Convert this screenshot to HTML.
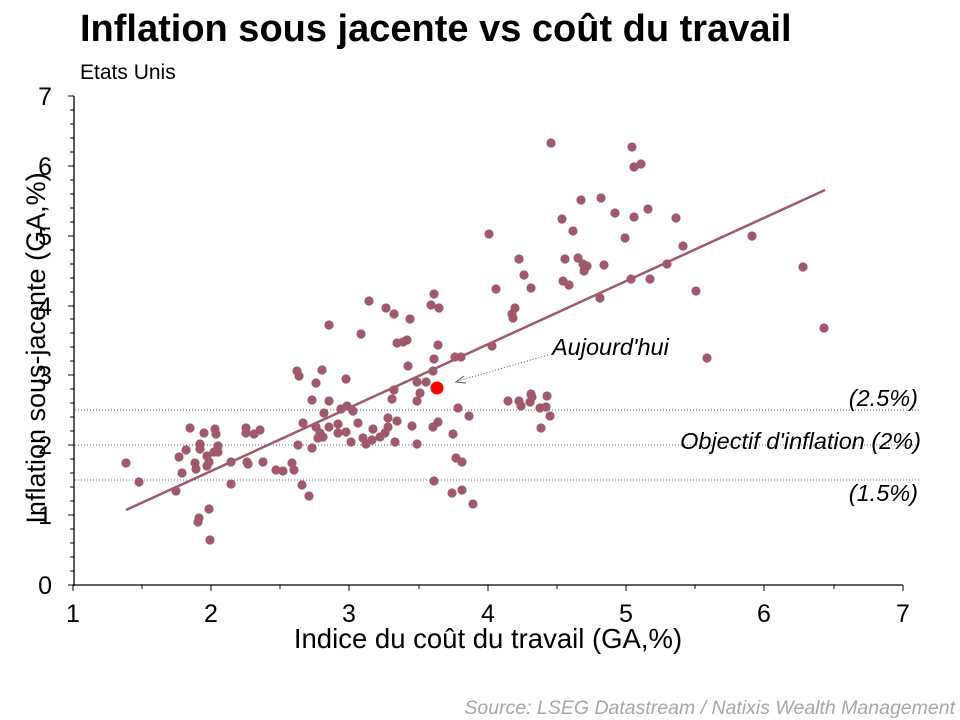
<!DOCTYPE html>
<html><head><meta charset="utf-8"><style>
body{margin:0;background:#fff;}
svg{display:block;font-family:"Liberation Sans",Arial,sans-serif;}
</style></head><body>
<svg width="960" height="720" viewBox="0 0 960 720" xmlns="http://www.w3.org/2000/svg">
<text x="80" y="41" font-size="38" font-weight="bold" fill="#000">Inflation sous jacente vs coût du travail</text>
<text x="80" y="79" font-size="21" fill="#000">Etats Unis</text>
<g stroke="#666" stroke-width="1" stroke-dasharray="1,2">
<line x1="75" y1="410" x2="920" y2="410"/>
<line x1="75" y1="445" x2="920" y2="445"/>
<line x1="75" y1="480" x2="920" y2="480"/>
</g>
<g stroke="#000" stroke-width="1.3">
<line x1="74" y1="96" x2="74" y2="586"/>
<line x1="73" y1="585" x2="903" y2="585"/>
</g>
<g stroke="#000" stroke-width="1">
<line x1="68" y1="585" x2="74" y2="585"/><line x1="70" y1="571" x2="74" y2="571"/><line x1="70" y1="557" x2="74" y2="557"/><line x1="70" y1="543" x2="74" y2="543"/><line x1="70" y1="529" x2="74" y2="529"/>
<line x1="68" y1="515" x2="74" y2="515"/><line x1="70" y1="501" x2="74" y2="501"/><line x1="70" y1="487" x2="74" y2="487"/><line x1="70" y1="473" x2="74" y2="473"/><line x1="70" y1="459" x2="74" y2="459"/>
<line x1="68" y1="445" x2="74" y2="445"/><line x1="70" y1="431" x2="74" y2="431"/><line x1="70" y1="417" x2="74" y2="417"/><line x1="70" y1="403" x2="74" y2="403"/><line x1="70" y1="389" x2="74" y2="389"/>
<line x1="68" y1="375" x2="74" y2="375"/><line x1="70" y1="361" x2="74" y2="361"/><line x1="70" y1="347" x2="74" y2="347"/><line x1="70" y1="333" x2="74" y2="333"/><line x1="70" y1="319" x2="74" y2="319"/>
<line x1="68" y1="306" x2="74" y2="306"/><line x1="70" y1="292" x2="74" y2="292"/><line x1="70" y1="278" x2="74" y2="278"/><line x1="70" y1="264" x2="74" y2="264"/><line x1="70" y1="250" x2="74" y2="250"/>
<line x1="68" y1="236" x2="74" y2="236"/><line x1="70" y1="222" x2="74" y2="222"/><line x1="70" y1="208" x2="74" y2="208"/><line x1="70" y1="194" x2="74" y2="194"/><line x1="70" y1="180" x2="74" y2="180"/>
<line x1="68" y1="166" x2="74" y2="166"/><line x1="70" y1="152" x2="74" y2="152"/><line x1="70" y1="138" x2="74" y2="138"/><line x1="70" y1="124" x2="74" y2="124"/><line x1="70" y1="110" x2="74" y2="110"/>
<line x1="68" y1="96" x2="74" y2="96"/>
<line x1="73" y1="585" x2="73" y2="591"/><line x1="142" y1="585" x2="142" y2="589"/><line x1="211" y1="585" x2="211" y2="591"/><line x1="280" y1="585" x2="280" y2="589"/><line x1="349" y1="585" x2="349" y2="591"/><line x1="419" y1="585" x2="419" y2="589"/><line x1="488" y1="585" x2="488" y2="591"/><line x1="557" y1="585" x2="557" y2="589"/><line x1="626" y1="585" x2="626" y2="591"/><line x1="695" y1="585" x2="695" y2="589"/><line x1="764" y1="585" x2="764" y2="591"/><line x1="834" y1="585" x2="834" y2="589"/><line x1="903" y1="585" x2="903" y2="591"/>
</g>
<g font-size="25" fill="#000" text-anchor="end">
<text x="52" y="594">0</text><text x="52" y="524">1</text><text x="52" y="454">2</text><text x="52" y="384">3</text><text x="52" y="315">4</text><text x="52" y="245">5</text><text x="52" y="175">6</text><text x="52" y="105">7</text>
</g>
<g font-size="25" fill="#000" text-anchor="middle">
<text x="73" y="622">1</text><text x="211" y="622">2</text><text x="349" y="622">3</text><text x="488" y="622">4</text><text x="626" y="622">5</text><text x="764" y="622">6</text><text x="903" y="622">7</text>
</g>
<text x="488" y="648" font-size="27.5" text-anchor="middle">Indice du coût du travail (GA,%)</text>
<text transform="translate(45,348) rotate(-90)" font-size="27" text-anchor="middle">Inflation sous-jacente (GA,%)</text>
<line x1="126" y1="510" x2="825" y2="190" stroke="#a0596b" stroke-width="2.5"/>
<g fill="#a0596b">
<circle cx="126" cy="463" r="4.6"/><circle cx="139" cy="482" r="4.6"/><circle cx="176" cy="491" r="4.6"/><circle cx="179" cy="457" r="4.6"/><circle cx="182" cy="473" r="4.6"/><circle cx="186" cy="450" r="4.6"/><circle cx="190" cy="428" r="4.6"/><circle cx="195" cy="463" r="4.6"/><circle cx="196" cy="469" r="4.6"/><circle cx="200" cy="444" r="4.6"/><circle cx="200" cy="449" r="4.6"/><circle cx="198" cy="522" r="4.6"/><circle cx="199" cy="518" r="4.6"/><circle cx="209" cy="509" r="4.6"/><circle cx="210" cy="540" r="4.6"/><circle cx="204" cy="433" r="4.6"/><circle cx="207" cy="456" r="4.6"/><circle cx="209" cy="462" r="4.6"/><circle cx="207" cy="466" r="4.6"/><circle cx="215" cy="429" r="4.6"/><circle cx="216" cy="434" r="4.6"/><circle cx="218" cy="446" r="4.6"/><circle cx="218" cy="452" r="4.6"/><circle cx="214" cy="452" r="4.6"/><circle cx="231" cy="462" r="4.6"/><circle cx="231" cy="484" r="4.6"/><circle cx="246" cy="428" r="4.6"/><circle cx="246" cy="433" r="4.6"/><circle cx="247" cy="462" r="4.6"/><circle cx="248" cy="464" r="4.6"/><circle cx="254" cy="434" r="4.6"/><circle cx="260" cy="430" r="4.6"/><circle cx="263" cy="462" r="4.6"/><circle cx="276" cy="470" r="4.6"/><circle cx="283" cy="471" r="4.6"/><circle cx="292" cy="463" r="4.6"/><circle cx="294" cy="470" r="4.6"/><circle cx="302" cy="485" r="4.6"/><circle cx="309" cy="496" r="4.6"/><circle cx="297" cy="371" r="4.6"/><circle cx="299" cy="376" r="4.6"/><circle cx="316" cy="383" r="4.6"/><circle cx="322" cy="370" r="4.6"/><circle cx="329" cy="325" r="4.6"/><circle cx="312" cy="400" r="4.6"/><circle cx="329" cy="401" r="4.6"/><circle cx="303" cy="423" r="4.6"/><circle cx="324" cy="413" r="4.6"/><circle cx="298" cy="445" r="4.6"/><circle cx="312" cy="448" r="4.6"/><circle cx="316" cy="427" r="4.6"/><circle cx="318" cy="438" r="4.6"/><circle cx="320" cy="433" r="4.6"/><circle cx="323" cy="437" r="4.6"/><circle cx="329" cy="427" r="4.6"/><circle cx="338" cy="424" r="4.6"/><circle cx="338" cy="433" r="4.6"/><circle cx="346" cy="432" r="4.6"/><circle cx="351" cy="442" r="4.6"/><circle cx="341" cy="409" r="4.6"/><circle cx="347" cy="406" r="4.6"/><circle cx="353" cy="411" r="4.6"/><circle cx="358" cy="423" r="4.6"/><circle cx="346" cy="379" r="4.6"/><circle cx="369" cy="301" r="4.6"/><circle cx="361" cy="334" r="4.6"/><circle cx="386" cy="308" r="4.6"/><circle cx="394" cy="314" r="4.6"/><circle cx="410" cy="319" r="4.6"/><circle cx="397" cy="343" r="4.6"/><circle cx="403" cy="342" r="4.6"/><circle cx="407" cy="340" r="4.6"/><circle cx="408" cy="366" r="4.6"/><circle cx="373" cy="429" r="4.6"/><circle cx="363" cy="438" r="4.6"/><circle cx="366" cy="444" r="4.6"/><circle cx="372" cy="440" r="4.6"/><circle cx="380" cy="437" r="4.6"/><circle cx="385" cy="433" r="4.6"/><circle cx="388" cy="427" r="4.6"/><circle cx="388" cy="418" r="4.6"/><circle cx="397" cy="421" r="4.6"/><circle cx="395" cy="442" r="4.6"/><circle cx="392" cy="399" r="4.6"/><circle cx="394" cy="390" r="4.6"/><circle cx="417" cy="401" r="4.6"/><circle cx="420" cy="393" r="4.6"/><circle cx="417" cy="382" r="4.6"/><circle cx="426" cy="382" r="4.6"/><circle cx="412" cy="426" r="4.6"/><circle cx="417" cy="444" r="4.6"/><circle cx="434" cy="294" r="4.6"/><circle cx="431" cy="305" r="4.6"/><circle cx="439" cy="308" r="4.6"/><circle cx="438" cy="345" r="4.6"/><circle cx="434" cy="359" r="4.6"/><circle cx="433" cy="371" r="4.6"/><circle cx="455" cy="357" r="4.6"/><circle cx="461" cy="357" r="4.6"/><circle cx="458" cy="408" r="4.6"/><circle cx="469" cy="416" r="4.6"/><circle cx="433" cy="427" r="4.6"/><circle cx="438" cy="422" r="4.6"/><circle cx="453" cy="434" r="4.6"/><circle cx="456" cy="458" r="4.6"/><circle cx="462" cy="462" r="4.6"/><circle cx="434" cy="481" r="4.6"/><circle cx="452" cy="493" r="4.6"/><circle cx="462" cy="490" r="4.6"/><circle cx="473" cy="504" r="4.6"/>
<circle cx="489" cy="234" r="4.6"/><circle cx="492" cy="346" r="4.6"/><circle cx="496" cy="289" r="4.6"/><circle cx="508" cy="401" r="4.6"/><circle cx="512" cy="314" r="4.6"/><circle cx="513" cy="318" r="4.6"/><circle cx="515" cy="308" r="4.6"/><circle cx="519" cy="401" r="4.6"/><circle cx="519" cy="259" r="4.6"/><circle cx="521" cy="406" r="4.6"/><circle cx="524" cy="275" r="4.6"/><circle cx="530" cy="402" r="4.6"/><circle cx="531" cy="394" r="4.6"/><circle cx="532" cy="397" r="4.6"/><circle cx="531" cy="288" r="4.6"/><circle cx="540" cy="408" r="4.6"/><circle cx="541" cy="428" r="4.6"/><circle cx="546" cy="407" r="4.6"/><circle cx="547" cy="396" r="4.6"/><circle cx="550" cy="416" r="4.6"/><circle cx="551" cy="143" r="4.6"/><circle cx="562" cy="219" r="4.6"/><circle cx="563" cy="281" r="4.6"/><circle cx="565" cy="259" r="4.6"/><circle cx="569" cy="285" r="4.6"/><circle cx="573" cy="231" r="4.6"/><circle cx="578" cy="258" r="4.6"/><circle cx="581" cy="200" r="4.6"/><circle cx="583" cy="264" r="4.6"/><circle cx="584" cy="271" r="4.6"/><circle cx="587" cy="266" r="4.6"/><circle cx="600" cy="298" r="4.6"/><circle cx="601" cy="198" r="4.6"/><circle cx="604" cy="265" r="4.6"/><circle cx="615" cy="213" r="4.6"/><circle cx="625" cy="238" r="4.6"/><circle cx="631" cy="279" r="4.6"/><circle cx="632" cy="147" r="4.6"/><circle cx="634" cy="217" r="4.6"/><circle cx="634" cy="167" r="4.6"/><circle cx="641" cy="164" r="4.6"/><circle cx="648" cy="209" r="4.6"/><circle cx="650" cy="279" r="4.6"/><circle cx="667" cy="264" r="4.6"/><circle cx="676" cy="218" r="4.6"/><circle cx="683" cy="246" r="4.6"/><circle cx="696" cy="291" r="4.6"/><circle cx="707" cy="358" r="4.6"/><circle cx="752" cy="236" r="4.6"/><circle cx="803" cy="267" r="4.6"/><circle cx="824" cy="328" r="4.6"/>
</g>
<circle cx="437" cy="388" r="6.5" fill="#ff0000"/>
<line x1="548" y1="355" x2="458" y2="381" stroke="#555" stroke-width="1" stroke-dasharray="1,2"/>
<path d="M464,376 L456,382 L466,383" fill="none" stroke="#555" stroke-width="1"/>
<g font-size="23.5" font-style="italic" fill="#000">
<text x="552" y="355">Aujourd'hui</text>
<text x="918" y="406" text-anchor="end">(2.5%)</text>
<text x="921" y="449" text-anchor="end">Objectif d'inflation (2%)</text>
<text x="918" y="501" text-anchor="end">(1.5%)</text>
</g>
<text x="955" y="714" font-size="19.5" font-style="italic" fill="#a6a6a6" text-anchor="end">Source: LSEG Datastream / Natixis Wealth Management</text>
</svg>
</body></html>
